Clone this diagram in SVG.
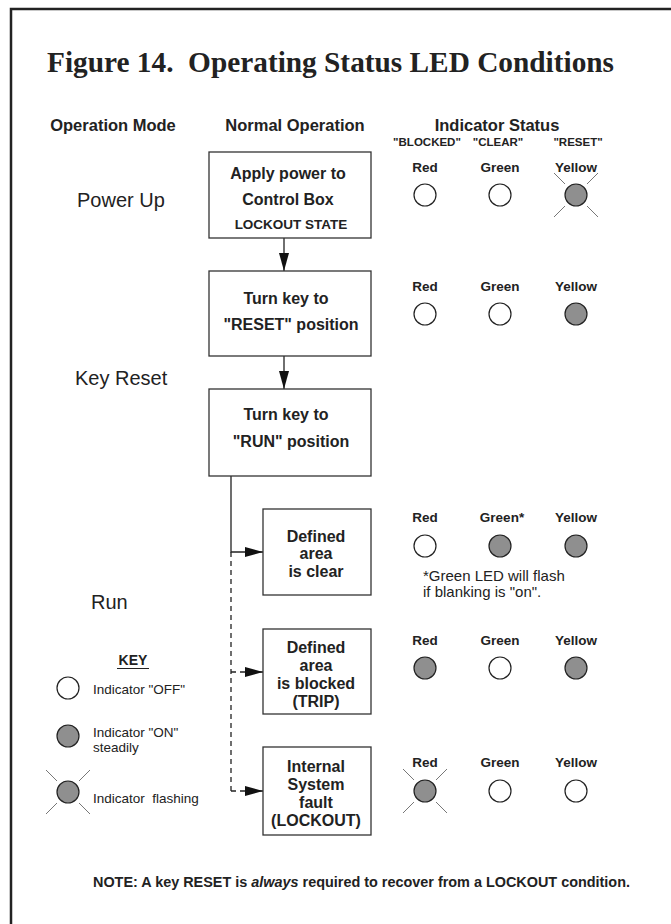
<svg xmlns="http://www.w3.org/2000/svg" width="671" height="924" viewBox="0 0 671 924">
<style>
.frame{fill:none;stroke:#222;stroke-width:2.5}
.box{fill:#fff;stroke:#333;stroke-width:1.3}
.t{font-family:"Liberation Sans",Arial,sans-serif;fill:#222}
.b{font-weight:bold}
.hd{font-size:16.5px;font-weight:bold}
.q{font-size:11.5px;font-weight:bold}
.bt{font-size:16px;font-weight:bold}
.lbl{font-size:13.5px;font-weight:bold}
.mode{font-size:20px}
.key{font-size:13.5px}
.pre{white-space:pre}
.off{fill:#fff;stroke:#222;stroke-width:1.2}
.on{fill:#8f8f8f;stroke:#222;stroke-width:1.2}
.ray{stroke:#777;stroke-width:1}
.con{fill:none;stroke:#222;stroke-width:1.3}
.dash{stroke-dasharray:5,4}
</style>
<defs>
<marker id="ah" markerUnits="userSpaceOnUse" markerWidth="18" markerHeight="10" refX="18" refY="5" orient="auto">
<path d="M0,0 L18,5 L0,10 z" fill="#111"/>
</marker>
<g id="rays">
<line class="ray" x1="-22" y1="-22" x2="-11" y2="-11"/>
<line class="ray" x1="22" y1="-22" x2="11" y2="-11"/>
<line class="ray" x1="-22" y1="22" x2="-11" y2="11"/>
<line class="ray" x1="22" y1="22" x2="11" y2="11"/>
</g>
</defs>
<rect width="671" height="924" fill="#fff"/>
<rect class="frame" x="11" y="9" width="700" height="1000"/>

<text class="pre" xml:space="preserve" x="47" y="72" font-family="'Liberation Serif','Times New Roman',serif" font-weight="bold" font-size="30" fill="#222" textLength="567" lengthAdjust="spacingAndGlyphs">Figure 14.  Operating Status LED Conditions</text>

<g id="headers" class="t" text-anchor="middle">
<text class="hd" x="113" y="131">Operation Mode</text>
<text class="hd" x="295" y="131">Normal Operation</text>
<text class="hd" x="497" y="131">Indicator Status</text>
<text class="q" x="427" y="146">"BLOCKED"</text>
<text class="q" x="498" y="146">"CLEAR"</text>
<text class="q" x="578" y="146">"RESET"</text>
</g>

<g id="modes" class="t mode">
<text x="77" y="207">Power Up</text>
<text x="75" y="385">Key Reset</text>
<text x="91" y="609">Run</text>
</g>

<g id="connectors">
<path class="con" d="M284,238 V271" marker-end="url(#ah)"/>
<path class="con" d="M284,356 V389" marker-end="url(#ah)"/>
<path class="con" d="M231,476 V552 H263" marker-end="url(#ah)"/>
<path class="con dash" d="M231,552 V791"/>
<path class="con dash" d="M231,672 H263" marker-end="url(#ah)"/>
<path class="con dash" d="M231,791 H263" marker-end="url(#ah)"/>
</g>

<g id="box1">
<rect class="box" x="209" y="152" width="162" height="86"/>
<g class="t bt" text-anchor="middle">
<text x="288" y="179">Apply power to</text>
<text x="288" y="205">Control Box</text>
<text x="291" y="229" font-size="13.5">LOCKOUT STATE</text>
</g>
</g>

<g id="box2">
<rect class="box" x="209" y="271" width="162" height="85"/>
<g class="t bt" text-anchor="middle">
<text x="286" y="304">Turn key to</text>
<text x="291" y="330">"RESET" position</text>
</g>
</g>

<g id="box3">
<rect class="box" x="209" y="389" width="162" height="87"/>
<g class="t bt" text-anchor="middle">
<text x="286" y="420">Turn key to</text>
<text x="291" y="447">"RUN" position</text>
</g>
</g>

<g id="box4">
<rect class="box" x="263" y="509" width="108" height="86"/>
<g class="t bt" text-anchor="middle">
<text x="316" y="542">Defined</text>
<text x="316" y="559">area</text>
<text x="316" y="577">is clear</text>
</g>
</g>

<g id="box5">
<rect class="box" x="263" y="629" width="108" height="85"/>
<g class="t bt" text-anchor="middle">
<text x="316" y="653">Defined</text>
<text x="316" y="671">area</text>
<text x="316" y="689">is blocked</text>
<text x="316" y="707">(TRIP)</text>
</g>
</g>

<g id="box6">
<rect class="box" x="263" y="747" width="108" height="88"/>
<g class="t bt" text-anchor="middle">
<text x="316" y="772">Internal</text>
<text x="316" y="790">System</text>
<text x="316" y="808">fault</text>
<text x="316" y="826">(LOCKOUT)</text>
</g>
</g>

<g id="status1">
<g class="t lbl" text-anchor="middle">
<text x="425" y="172">Red</text>
<text x="500" y="172">Green</text>
<text x="576" y="172">Yellow</text>
</g>
<circle class="off" cx="425" cy="195" r="11"/>
<circle class="off" cx="500" cy="195" r="11"/>
<use href="#rays" x="576" y="195"/>
<circle class="on" cx="576" cy="195" r="11"/>
</g>

<g id="status2">
<g class="t lbl" text-anchor="middle">
<text x="425" y="291">Red</text>
<text x="500" y="291">Green</text>
<text x="576" y="291">Yellow</text>
</g>
<circle class="off" cx="425" cy="314" r="11"/>
<circle class="off" cx="500" cy="314" r="11"/>
<circle class="on" cx="576" cy="314" r="11"/>
</g>

<g id="status3">
<g class="t lbl" text-anchor="middle">
<text x="425" y="522">Red</text>
<text x="502" y="522">Green*</text>
<text x="576" y="522">Yellow</text>
</g>
<circle class="off" cx="425" cy="546" r="11"/>
<circle class="on" cx="500" cy="546" r="11"/>
<circle class="on" cx="576" cy="546" r="11"/>
<g class="t" font-size="15">
<text x="423" y="581">*Green LED will flash</text>
<text x="423" y="597">if blanking is "on".</text>
</g>
</g>

<g id="status4">
<g class="t lbl" text-anchor="middle">
<text x="425" y="645">Red</text>
<text x="500" y="645">Green</text>
<text x="576" y="645">Yellow</text>
</g>
<circle class="on" cx="425" cy="668" r="11"/>
<circle class="off" cx="500" cy="668" r="11"/>
<circle class="on" cx="576" cy="668" r="11"/>
</g>

<g id="status5">
<g class="t lbl" text-anchor="middle">
<text x="425" y="767">Red</text>
<text x="500" y="767">Green</text>
<text x="576" y="767">Yellow</text>
</g>
<use href="#rays" x="425" y="791"/>
<circle class="on" cx="425" cy="791" r="11"/>
<circle class="off" cx="500" cy="791" r="11"/>
<circle class="off" cx="576" cy="791" r="11"/>
</g>

<g id="key">
<text class="t b" x="133" y="665" font-size="14" text-anchor="middle">KEY</text>
<line x1="117" y1="668.5" x2="149" y2="668.5" stroke="#222" stroke-width="1"/>
<circle class="off" cx="68" cy="688" r="11"/>
<text class="t key" x="93" y="694">Indicator "OFF"</text>
<circle class="on" cx="68" cy="736" r="11"/>
<text class="t key" x="93" y="737">Indicator "ON"</text>
<text class="t key" x="93" y="752">steadily</text>
<use href="#rays" x="68" y="792"/>
<circle class="on" cx="68" cy="792" r="11"/>
<text class="t key pre" xml:space="preserve" x="93" y="803">Indicator  flashing</text>
</g>

<text class="t b" x="93" y="887" font-size="14.5" textLength="537" lengthAdjust="spacingAndGlyphs">NOTE: A key RESET is <tspan font-style="italic">always</tspan> required to recover from a LOCKOUT condition.</text>
</svg>
